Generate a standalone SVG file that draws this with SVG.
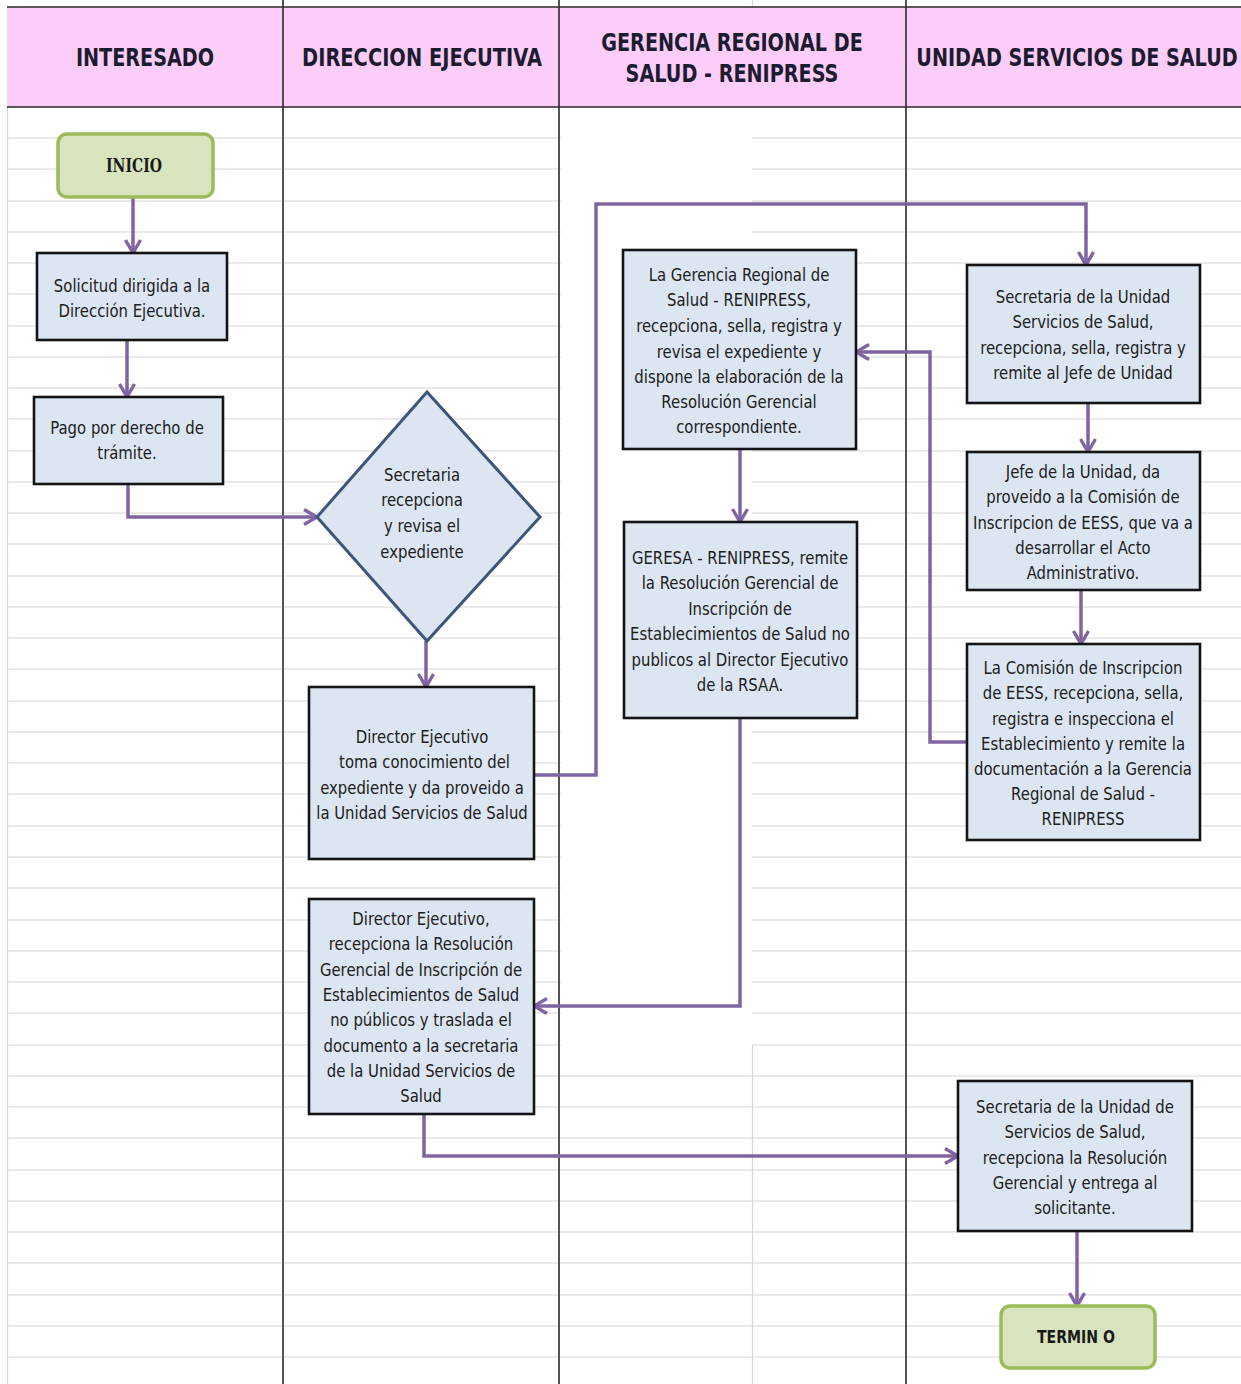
<svg xmlns="http://www.w3.org/2000/svg" width="1241" height="1384" viewBox="0 0 1241 1384">
<style>
.grid{stroke:#d6d6d6;stroke-width:1.2;fill:none}
.col{stroke:#2a2a2a;stroke-width:1.6}
.hdr{font-family:"DejaVu Sans",sans-serif;font-weight:bold;font-size:24px;fill:#1c1c30;text-anchor:middle}
.box{fill:#dce6f2;stroke:#141414;stroke-width:2.6}
.dia{fill:#dce6f2;stroke:#3d5579;stroke-width:3}
.term{fill:#d7e4bd;stroke:#9bbb59;stroke-width:3.5}
.t{font-family:"DejaVu Sans",sans-serif;font-size:17.5px;fill:#202020;text-anchor:middle}
.tb{font-family:"DejaVu Sans",sans-serif;font-weight:bold;font-size:17px;fill:#1a1a1a;text-anchor:middle}
.ts{font-family:"DejaVu Serif",serif;font-weight:bold;font-size:18px;fill:#1a1a1a;text-anchor:middle}
.con{fill:none;stroke:#8064a2;stroke-width:3.5;stroke-linejoin:miter}
</style>
<defs>
<marker id="arr" viewBox="0 0 18 18" refX="16" refY="9" markerWidth="18" markerHeight="18" markerUnits="userSpaceOnUse" orient="auto">
<path d="M3,1.5 L16,9 L3,16.5" fill="none" stroke="#8064a2" stroke-width="3.4"/>
</marker>
</defs>
<rect width="1241" height="1384" fill="#ffffff"/>
<g id="background">
<path class="grid" d="M7,138H1241M7,169H1241M7,201H1241M7,232H1241M7,263H1241M7,294H1241M7,326H1241M7,357H1241M7,388H1241M7,419H1241M7,451H1241M7,482H1241M7,513H1241M7,544H1241M7,576H1241M7,607H1241M7,638H1241M7,669H1241M7,701H1241M7,732H1241M7,763H1241M7,794H1241M7,826H1241M7,857H1241M7,888H1241M7,920H1241M7,951H1241M7,982H1241M7,1013H1241M7,1045H1241M7,1076H1241M7,1107H1241M7,1138H1241M7,1170H1241M7,1201H1241M7,1232H1241M7,1263H1241M7,1295H1241M7,1326H1241M7,1357H1241"/>
<rect x="561" y="108" width="191" height="939" fill="#ffffff"/>
<path class="grid" d="M7.5,107V1384M752.5,1045V1384M752.5,0V7"/>
<rect x="7" y="7" width="1234" height="100" fill="#fccdf8"/>
<path class="col" d="M7,7H1241M7,107H1241M283,0V1384M559,0V1384M906,0V1384"/>
</g>
<g id="headers">
<text class="hdr" transform="translate(145,0) scale(0.8,1)"><tspan x="0" y="66">INTERESADO</tspan></text>
<text class="hdr" transform="translate(422,0) scale(0.81,1)"><tspan x="0" y="66">DIRECCION EJECUTIVA</tspan></text>
<text class="hdr" transform="translate(732,0) scale(0.8,1)"><tspan x="0" y="51">GERENCIA REGIONAL DE</tspan><tspan x="0" y="82">SALUD - RENIPRESS</tspan></text>
<text class="hdr" transform="translate(1077,0) scale(0.8,1)"><tspan x="0" y="66">UNIDAD SERVICIOS DE SALUD</tspan></text>
</g>
<g id="connectors">
<path class="con" marker-end="url(#arr)" d="M133,197V253"/>
<path class="con" marker-end="url(#arr)" d="M127,340V397"/>
<path class="con" marker-end="url(#arr)" d="M128,484V517H317"/>
<path class="con" marker-end="url(#arr)" d="M426,641V687"/>
<path class="con" marker-end="url(#arr)" d="M534,775H596V204H1086V265"/>
<path class="con" marker-end="url(#arr)" d="M1088,403V452"/>
<path class="con" marker-end="url(#arr)" d="M1081,590V644"/>
<path class="con" marker-end="url(#arr)" d="M967,742H930V352H856"/>
<path class="con" marker-end="url(#arr)" d="M740,449V522"/>
<path class="con" marker-end="url(#arr)" d="M740,718V1006H534"/>
<path class="con" marker-end="url(#arr)" d="M424,1114V1156H958"/>
<path class="con" marker-end="url(#arr)" d="M1077,1231V1306"/>
</g>
<g id="inicio">
<rect class="term" x="58" y="134" width="155" height="63" rx="9"/>
<text class="ts" transform="translate(134,0) scale(0.78,1)"><tspan x="0" y="172">INICIO</tspan></text>
</g>
<g id="solicitud">
<rect class="box" x="37" y="253" width="190" height="87"/>
<text class="t" transform="translate(132,0) scale(0.85,1)"><tspan x="0" y="292">Solicitud dirigida a la</tspan><tspan x="0" y="317">Dirección Ejecutiva.</tspan></text>
</g>
<g id="pago">
<rect class="box" x="34" y="397" width="189" height="87"/>
<text class="t" transform="translate(127,0) scale(0.85,1)"><tspan x="0" y="434">Pago por derecho de</tspan><tspan x="0" y="459">trámite.</tspan></text>
</g>
<g id="secretaria-revisa">
<polygon class="dia" points="427,392 540,517 427,641 317,517"/>
<text class="t" transform="translate(422,0) scale(0.85,1)"><tspan x="0" y="481">Secretaria</tspan><tspan x="0" y="506">recepciona</tspan><tspan x="0" y="532">y revisa el</tspan><tspan x="0" y="558">expediente</tspan></text>
</g>
<g id="director-proveido">
<rect class="box" x="309" y="687" width="225" height="172"/>
<text class="t" transform="translate(422,0) scale(0.85,1)"><tspan x="0" y="743">Director Ejecutivo</tspan><tspan x="3" y="768">toma conocimiento del</tspan><tspan x="0" y="794">expediente y da proveido a</tspan><tspan x="0" y="819">la Unidad Servicios de Salud</tspan></text>
</g>
<g id="director-recepciona">
<rect class="box" x="309" y="899" width="225" height="215"/>
<text class="t" transform="translate(421,0) scale(0.85,1)"><tspan x="0" y="925">Director Ejecutivo,</tspan><tspan x="0" y="950">recepciona la Resolución</tspan><tspan x="0" y="976">Gerencial de Inscripción de</tspan><tspan x="0" y="1001">Establecimientos de Salud</tspan><tspan x="0" y="1026">no públicos y traslada el</tspan><tspan x="0" y="1052">documento a la secretaria</tspan><tspan x="0" y="1077">de la Unidad Servicios de</tspan><tspan x="0" y="1102">Salud</tspan></text>
</g>
<g id="gerencia-revisa">
<rect class="box" x="623" y="250" width="233" height="199"/>
<text class="t" transform="translate(739,0) scale(0.85,1)"><tspan x="0" y="281">La Gerencia Regional de</tspan><tspan x="0" y="306">Salud - RENIPRESS,</tspan><tspan x="0" y="332">recepciona, sella, registra y</tspan><tspan x="0" y="358">revisa el expediente y</tspan><tspan x="0" y="383">dispone la elaboración de la</tspan><tspan x="0" y="408">Resolución Gerencial</tspan><tspan x="0" y="433">correspondiente.</tspan></text>
</g>
<g id="geresa-remite">
<rect class="box" x="624" y="522" width="233" height="196"/>
<text class="t" transform="translate(740,0) scale(0.85,1)"><tspan x="0" y="564">GERESA - RENIPRESS, remite</tspan><tspan x="0" y="589">la Resolución Gerencial de</tspan><tspan x="0" y="615">Inscripción de</tspan><tspan x="0" y="640">Establecimientos de Salud no</tspan><tspan x="0" y="666">publicos al Director Ejecutivo</tspan><tspan x="0" y="691">de la RSAA.</tspan></text>
</g>
<g id="secretaria-unidad">
<rect class="box" x="967" y="265" width="233" height="138"/>
<text class="t" transform="translate(1083,0) scale(0.85,1)"><tspan x="0" y="303">Secretaria de la Unidad</tspan><tspan x="0" y="328">Servicios de Salud,</tspan><tspan x="0" y="354">recepciona, sella, registra y</tspan><tspan x="0" y="379">remite al Jefe de Unidad</tspan></text>
</g>
<g id="jefe-unidad">
<rect class="box" x="967" y="452" width="233" height="138"/>
<text class="t" transform="translate(1083,0) scale(0.85,1)"><tspan x="0" y="478">Jefe de la Unidad, da</tspan><tspan x="0" y="503">proveido a la Comisión de</tspan><tspan x="0" y="529">Inscripcion de EESS, que va a</tspan><tspan x="0" y="554">desarrollar el Acto</tspan><tspan x="0" y="579">Administrativo.</tspan></text>
</g>
<g id="comision">
<rect class="box" x="967" y="644" width="233" height="196"/>
<text class="t" transform="translate(1083,0) scale(0.85,1)"><tspan x="0" y="674">La Comisión de Inscripcion</tspan><tspan x="0" y="699">de EESS, recepciona, sella,</tspan><tspan x="0" y="725">registra e inspecciona el</tspan><tspan x="0" y="750">Establecimiento y remite la</tspan><tspan x="0" y="775">documentación a la Gerencia</tspan><tspan x="0" y="800">Regional de Salud -</tspan><tspan x="0" y="825">RENIPRESS</tspan></text>
</g>
<g id="secretaria-entrega">
<rect class="box" x="958" y="1081" width="234" height="150"/>
<text class="t" transform="translate(1075,0) scale(0.85,1)"><tspan x="0" y="1113">Secretaria de la Unidad de</tspan><tspan x="0" y="1138">Servicios de Salud,</tspan><tspan x="0" y="1164">recepciona la Resolución</tspan><tspan x="0" y="1189">Gerencial y entrega al</tspan><tspan x="0" y="1214">solicitante.</tspan></text>
</g>
<g id="termino">
<rect class="term" x="1001" y="1306" width="154" height="62" rx="9"/>
<text class="tb" transform="translate(1076,0) scale(0.83,1)"><tspan x="0" y="1343">TERMIN O</tspan></text>
</g>
</svg>
